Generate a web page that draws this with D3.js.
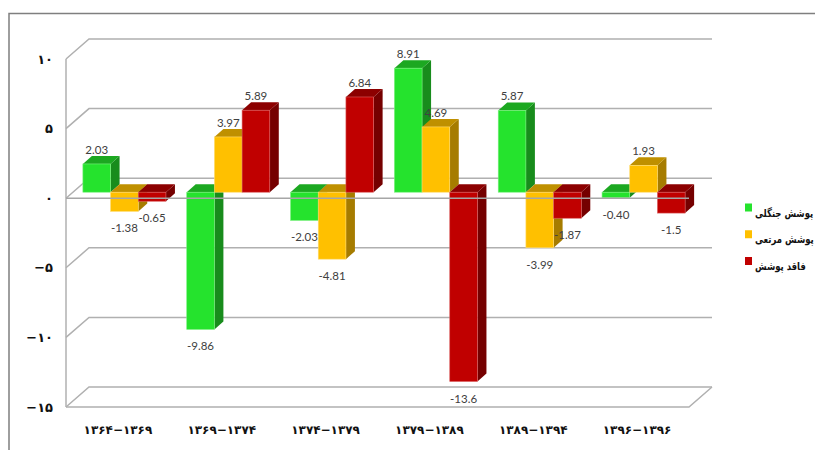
<!DOCTYPE html>
<html>
<head>
<meta charset="utf-8">
<script src="https://cdn.jsdelivr.net/npm/d3@7"></script>
<style>
  html, body { margin: 0; padding: 0; background: #fff; overflow: hidden; }
  svg { display: block; }
</style>
</head>
<body>
<svg id="chart" width="815" height="450"></svg>
<script>
var categories = ["۱۳۶۴−۱۳۶۹", "۱۳۶۹−۱۳۷۴", "۱۳۷۴−۱۳۷۹", "۱۳۷۹−۱۳۸۹", "۱۳۸۹−۱۳۹۴", "۱۳۹۶−۱۳۹۶"];
var seriesNames = ["پوشش جنگلی", "پوشش مرتعی", "فاقد پوشش"];
var forest = [2.03, -9.86, -2.03, 8.91, 5.87, -0.40];
var pasture = [-1.38, 3.97, -4.81, 4.69, -3.99, 1.93];
var bare = [-0.65, 5.89, 6.84, -13.6, -1.87, -1.5];
var valueLabels = [
    ["2.03", "-9.86", "-2.03", "8.91", "5.87", "-0.40"],
    ["-1.38", "3.97", "-4.81", "4.69", "-3.99", "1.93"],
    ["-0.65", "5.89", "6.84", "-13.6", "-1.87", "-1.5"]
];
var yTicks = [-15, -10, -5, 0, 5, 10];
var yTickLabels = ["−۱۵", "−۱۰", "−۵", "۰", "۵", "۱۰"];

var frontColors = ["#25e32d", "#ffc000", "#c00000"];
var topColors = ["#1ca821", "#bf9000", "#8c0000"];
var sideColors = ["#188c1c", "#a67c00", "#750000"];
var edgeColors = ["#7cf080", "#ffdc70", "#dc6060"];

var svg = d3.select("#chart");
var plotLeft = 66, plotRight = 689, plotBottom = 407, plotTop = 59;
var depthX = 23, depthY = -20;   // whole box depth
var barOffX = 6.5, barOffY = -6; // where bars stand inside the box
var barDX = 9, barDY = -8;       // depth of one bar

var x = d3.scaleBand().domain(categories).range([plotLeft, plotRight]).paddingInner(0.2).paddingOuter(0.1);
var xInner = d3.scaleBand().domain(seriesNames).range([0, x.bandwidth()]);
var y = d3.scaleLinear().domain([-15, 10]).range([plotBottom, plotTop]);

// outer frame
svg.append("path")
    .attr("d", "M9,450V13.5H815")
    .attr("fill", "none")
    .attr("stroke", "#7f7f7f")
    .attr("stroke-width", 1.5);

// back wall, side wall and floor lines
var grid = svg.append("g").attr("fill", "none").attr("stroke", "#b0b0b0").attr("stroke-width", 1.5);
yTicks.forEach(function (t) {
    grid.append("path")
        .attr("d", "M" + plotLeft + "," + y(t) + "L" + (plotLeft + depthX) + "," + (y(t) + depthY) + "H" + (plotRight + depthX));
});
grid.append("path").attr("d", "M" + plotLeft + "," + plotTop + "V" + plotBottom);
grid.append("path")
    .attr("d", "M" + plotLeft + "," + plotBottom + "H" + plotRight + "L" + (plotRight + depthX) + "," + (plotBottom + depthY));

// bars
[forest, pasture, bare].forEach(function (values, s) {
    var g = svg.append("g");
    var w = xInner.bandwidth();
    var bars = g.selectAll("g").data(values).enter().append("g");

    var px = function (d, i) { return x(categories[i]) + xInner(seriesNames[s]) + barOffX; };
    var yTop = function (d) { return y(Math.max(d, 0)) + barOffY; };
    var yBot = function (d) { return y(Math.min(d, 0)) + barOffY; };

    bars.append("path")
        .attr("fill", sideColors[s])
        .attr("d", function (d, i) {
            var a = px(d, i) + w;
            return "M" + a + "," + yTop(d) + "l" + barDX + "," + barDY + "V" + (yBot(d) + barDY) + "l" + (-barDX) + "," + (-barDY) + "Z";
        });
    bars.append("path")
        .attr("fill", topColors[s])
        .attr("d", function (d, i) {
            var a = px(d, i);
            return "M" + a + "," + yTop(d) + "l" + barDX + "," + barDY + "h" + w + "l" + (-barDX) + "," + (-barDY) + "Z";
        });
    bars.append("rect")
        .attr("x", px)
        .attr("y", yTop)
        .attr("width", w)
        .attr("height", function (d) { return yBot(d) - yTop(d); })
        .attr("fill", frontColors[s])
        .attr("stroke", edgeColors[s])
        .attr("stroke-width", 0.6);
});

// the zero line of the front sits over the bars
svg.append("path")
    .attr("d", "M" + plotLeft + "," + y(0) + "H" + plotRight)
    .attr("stroke", "#a6a6a6")
    .attr("stroke-width", 1.5)
    .attr("fill", "none");

// value labels
[forest, pasture, bare].forEach(function (values, s) {
    svg.append("g").selectAll("text").data(values).enter().append("text")
        .attr("x", function (d, i) { return x(categories[i]) + xInner(seriesNames[s]) + barOffX + xInner.bandwidth() / 2; })
        .attr("y", function (d) {
            return d >= 0 ? y(d) + barOffY - 10 : y(d) + barOffY + 21;
        })
        .attr("text-anchor", "middle")
        .attr("font-family", "Lato, 'Open Sans', sans-serif")
        .attr("font-size", 11.5)
        .attr("fill", "#404040")
        .text(function (d, i) { return valueLabels[s][i]; });
});

// axes
var yAxis = d3.axisLeft(y)
    .tickValues(yTicks)
    .tickSize(0)
    .tickPadding(13)
    .tickFormat(function (d) { return yTickLabels[yTicks.indexOf(d)]; });
var gy = svg.append("g").attr("transform", "translate(" + plotLeft + ",0)").call(yAxis);
gy.select(".domain").remove();
gy.selectAll("text")
    .attr("font-family", "'DejaVu Sans', sans-serif")
    .attr("font-weight", "bold")
    .attr("font-size", 13)
    .attr("fill", "#111");

var xAxis = d3.axisBottom(x).tickSize(0).tickPadding(18);
var gx = svg.append("g").attr("transform", "translate(0," + plotBottom + ")").call(xAxis);
gx.select(".domain").remove();
gx.selectAll("text")
    .attr("font-family", "'DejaVu Sans', sans-serif")
    .attr("font-weight", "bold")
    .attr("font-size", 12)
    .attr("fill", "#111");

// legend
var legendY = d3.scalePoint().domain(seriesNames).range([207.5, 261]);
var legend = svg.append("g").selectAll("g").data(seriesNames).enter().append("g")
    .attr("transform", function (d) { return "translate(745," + legendY(d) + ")"; });
legend.append("rect")
    .attr("x", 0).attr("y", -4)
    .attr("width", 7).attr("height", 8)
    .attr("fill", function (d, i) { return frontColors[i]; });
legend.append("text")
    .attr("transform", "translate(10,9) scale(0.77,1)")
    .attr("direction", "rtl")
    .attr("text-anchor", "end")
    .attr("font-family", "'DejaVu Sans', sans-serif")
    .attr("font-weight", "bold")
    .attr("font-size", 11)
    .attr("fill", "#111")
    .text(function (d) { return d; });
</script>
</body>
</html>
